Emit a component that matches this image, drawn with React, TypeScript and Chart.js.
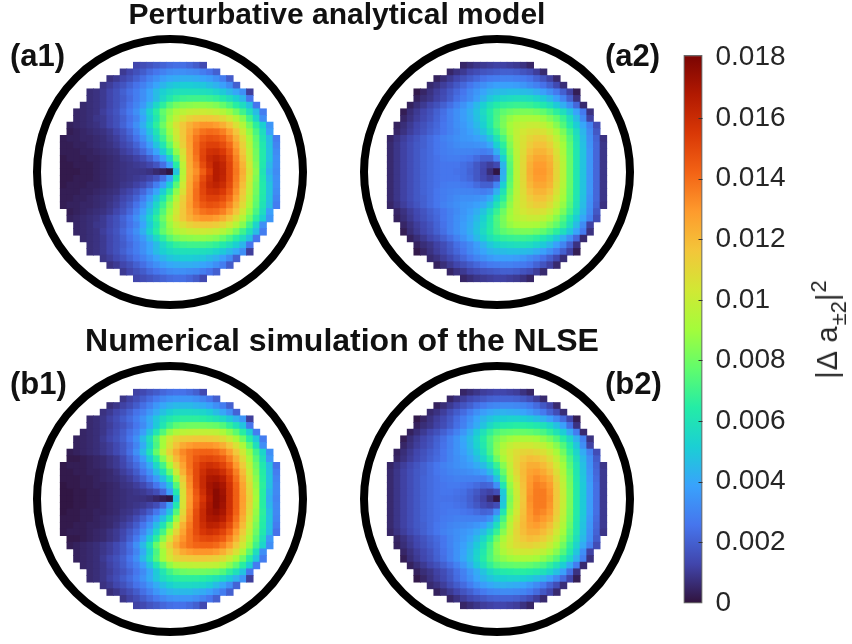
import React, { useEffect, useRef } from "react";
import { Chart, registerables } from "chart.js";

Chart.register(...registerables);

// Upper half of each panel (row 0 = top, row 16 = centre), values x 1e-4. Rows are centred on the grid; lower half mirrors.
const a1Rows: number[][] = [
  [13,15,17,19,21,23,24,24,22,19,14],
  [10,13,16,19,23,26,29,32,33,33,32,31,28,25,20],
  [8,10,13,16,20,24,29,33,37,40,41,42,42,41,39,37,33,28,19],
  [9,11,14,17,21,25,29,34,39,44,48,50,51,51,50,49,46,43,38,32,20],
  [7,8,10,13,16,20,24,28,33,39,46,52,56,58,59,59,59,58,57,54,50,45,40,33,11],
  [7,8,10,13,16,19,23,28,33,39,46,55,62,67,69,70,70,70,69,67,63,58,52,44,26],
  [6,7,8,10,13,16,20,25,30,36,45,55,66,75,81,84,85,86,86,85,83,78,72,65,57,47,26],
  [5,6,7,8,11,14,17,22,27,33,42,53,65,77,85,92,96,99,100,101,100,98,94,88,80,70,59,46,28],
  [5,6,7,9,10,13,16,20,25,30,39,50,62,75,88,98,106,111,114,115,115,113,109,103,94,84,70,54,33],
  [4,5,6,7,8,10,13,16,21,26,33,42,53,66,79,92,105,115,122,127,130,130,128,123,116,106,94,80,66,52,35],
  [3,4,5,6,7,8,10,13,17,22,29,38,48,60,74,88,102,115,125,133,138,140,139,135,127,116,102,87,72,57,38],
  [3,4,4,5,5,6,7,9,11,15,19,25,33,43,55,69,84,100,114,127,137,144,147,146,142,134,122,108,92,76,60,46,28],
  [3,3,4,4,5,6,7,8,10,13,16,21,28,37,48,61,77,94,112,126,139,148,152,152,148,140,127,112,95,78,62,47,30],
  [3,3,3,4,4,5,6,7,8,11,13,17,22,30,39,51,67,86,106,125,139,150,157,158,154,145,131,115,98,80,63,48,32],
  [2,3,3,3,4,4,5,6,7,9,10,12,15,20,28,38,52,75,102,124,137,151,160,163,159,149,134,118,100,81,63,48,33],
  [2,2,3,3,3,4,5,6,7,8,9,10,11,13,17,24,38,64,97,123,134,148,158,166,162,151,136,121,103,83,62,45,33],
  [2,2,2,3,3,4,5,6,7,8,9,9,9,8,6,4,1,48,95,122,131,143,154,166,163,151,137,123,105,85,60,42,32],
];
const a2Rows: number[][] = [
  [5,7,9,10,11,12,12,11,10,8,5],
  [5,8,10,13,15,17,18,19,20,20,19,17,15,11,6],
  [4,7,10,13,16,19,22,25,27,28,29,29,28,27,25,21,17,12,6],
  [6,8,11,14,18,22,26,30,33,36,38,38,38,37,35,32,29,25,20,14,7],
  [2,5,8,11,14,18,22,26,31,35,39,43,45,46,47,47,46,45,42,38,33,27,20,12,3],
  [4,7,9,12,15,19,24,28,32,37,43,49,53,56,57,58,58,57,54,50,45,38,30,20,8],
  [4,7,10,13,16,20,24,29,34,39,45,52,59,64,67,68,69,69,68,66,62,57,50,42,33,22,6],
  [3,7,10,13,16,20,24,29,33,37,42,48,56,64,71,76,79,81,82,82,80,77,72,66,58,49,39,27,8],
  [5,8,11,14,17,21,25,29,33,37,41,47,54,63,72,81,87,90,92,92,91,88,83,77,69,58,46,32,12],
  [4,7,10,13,16,19,22,26,29,33,36,40,45,52,62,73,82,90,95,98,100,100,97,92,84,74,63,51,40,29,15],
  [5,8,11,14,17,20,23,26,29,32,35,38,42,48,57,68,79,89,97,103,106,107,105,100,92,82,70,57,44,32,18],
  [5,8,11,14,17,20,23,26,29,31,33,35,36,38,41,48,60,72,86,98,105,110,113,112,107,98,87,74,60,46,33,21,8],
  [6,9,12,15,18,20,23,26,28,30,32,33,33,34,35,40,52,66,83,97,106,113,117,117,112,102,90,76,61,47,34,22,9],
  [6,9,12,15,18,21,23,26,28,29,30,30,30,29,28,30,42,60,80,96,107,117,121,121,117,106,92,77,62,48,35,22,9],
  [6,9,12,15,18,21,23,25,27,28,28,27,26,23,20,20,30,52,77,95,108,120,125,125,121,108,94,78,62,48,35,22,9],
  [6,9,12,15,18,21,23,25,26,26,26,24,22,18,14,11,14,44,75,95,109,122,128,128,123,110,95,78,62,48,35,22,9],
  [6,9,12,15,18,21,23,25,26,26,25,24,21,18,13,7,1,42,74,95,109,123,129,129,124,110,95,78,62,48,35,22,9],
];
const b1Rows: number[][] = [
  [12,14,17,19,22,24,25,25,23,20,14],
  [9,12,15,19,23,27,31,34,35,35,35,33,30,26,20],
  [7,9,12,15,19,24,29,35,40,43,45,45,45,43,41,38,33,28,20],
  [8,10,13,16,20,25,29,35,41,47,52,55,56,56,55,54,51,46,40,33,21],
  [6,7,9,12,15,19,23,28,34,41,49,57,62,65,66,66,66,65,63,60,56,50,43,35,11],
  [6,7,9,11,14,17,21,26,32,40,50,61,70,76,79,80,80,80,79,78,74,67,59,48,26],
  [5,6,7,9,12,15,19,24,29,37,48,61,74,86,93,96,97,98,98,98,97,92,85,76,65,51,28],
  [4,5,6,7,10,13,16,20,26,33,45,58,74,90,103,110,113,114,115,115,114,112,108,101,91,79,65,49,28],
  [4,5,6,7,9,11,14,18,23,30,41,55,72,90,106,117,124,128,130,130,130,128,123,115,105,92,76,58,33],
  [3,4,5,6,7,9,11,14,18,24,33,45,60,78,96,112,124,133,138,141,142,142,140,135,127,115,102,87,70,54,33],
  [2,2,3,4,5,6,8,10,14,20,27,37,50,66,84,103,119,130,138,145,149,150,148,144,135,123,108,92,75,58,36],
  [2,3,3,3,4,5,6,8,10,13,18,23,31,41,55,71,90,110,126,138,148,155,158,156,151,142,129,114,97,79,62,46,25],
  [2,2,3,3,4,4,5,6,8,11,14,19,26,34,46,60,78,101,122,136,149,158,164,163,158,149,135,119,101,82,64,47,28],
  [2,2,2,3,3,4,5,6,7,9,11,15,20,27,36,47,63,87,114,133,149,160,168,169,165,154,139,123,105,85,65,48,30],
  [1,2,2,3,3,4,4,5,6,8,9,11,14,19,26,35,48,74,109,131,148,160,170,173,169,157,142,126,108,87,66,47,31],
  [1,1,2,2,3,3,4,5,6,7,8,9,10,12,15,22,37,62,106,129,145,158,169,176,171,158,143,127,110,89,65,44,31],
  [1,1,2,2,3,3,4,5,6,7,8,8,8,7,5,3,1,50,105,128,143,155,167,176,172,158,143,128,112,90,65,42,30],
];
const b2Rows: number[][] = [
  [5,7,9,11,12,13,13,12,11,8,5],
  [5,8,11,14,16,18,20,21,21,21,20,18,15,11,6],
  [4,7,10,13,17,20,24,27,30,31,32,32,31,30,27,23,18,13,6],
  [6,8,11,15,19,23,28,33,37,40,42,43,42,41,39,36,32,27,21,15,7],
  [2,5,8,11,14,18,23,28,33,39,44,48,51,52,53,53,52,50,47,43,38,31,23,13,3],
  [4,7,9,12,15,19,24,29,35,41,48,55,60,63,64,65,65,64,62,59,54,47,38,24,8],
  [4,7,10,13,16,20,24,29,35,42,50,59,67,73,76,77,78,78,77,75,72,67,60,51,41,28,6],
  [3,7,10,13,16,20,24,29,34,40,46,54,64,73,81,86,89,91,92,92,90,86,81,74,65,55,43,29,8],
  [5,8,11,14,17,21,25,29,34,39,45,53,62,72,84,92,98,101,102,102,100,97,91,84,74,63,49,33,12],
  [4,7,10,13,16,19,22,26,30,34,38,43,50,59,71,85,95,102,107,110,111,109,106,100,91,80,67,54,41,29,15],
  [5,8,11,14,17,20,23,26,30,33,36,40,46,54,65,79,91,101,109,115,118,117,113,107,98,86,72,58,45,33,19],
  [5,8,11,14,17,20,23,26,29,31,33,35,37,41,46,55,68,84,98,110,118,123,123,119,113,103,90,75,61,47,34,21,9],
  [6,9,12,15,18,20,23,26,28,30,31,32,33,35,38,45,58,78,96,109,119,126,128,124,118,107,93,78,62,48,35,22,10],
  [6,9,12,15,18,21,23,25,27,28,29,29,29,29,29,33,47,71,92,106,118,128,132,129,124,111,96,80,63,49,36,23,10],
  [6,9,12,15,18,21,23,25,26,27,27,26,25,23,21,22,33,61,87,103,117,129,135,133,128,114,98,81,64,50,37,24,10],
  [6,9,12,15,18,21,23,25,26,26,25,24,21,18,14,12,15,50,84,101,116,130,136,136,130,115,99,82,64,50,37,24,10],
  [6,9,12,15,18,21,23,25,25,25,24,23,20,16,12,7,1,48,82,100,115,131,136,136,131,115,100,82,64,50,37,24,10],
];

const colorbarTicks = [0, 0.002, 0.004, 0.006, 0.008, 0.01, 0.012, 0.014, 0.016, 0.018];
const colorbarLabels = ["0", "0.002", "0.004", "0.006", "0.008", "0.01", "0.012", "0.014", "0.016", "0.018"];
const colorbarRange = [-0.00002, 0.01808];
const titleTop = "Perturbative analytical model";
const titleBottom = "Numerical simulation of the NLSE";
const turboStops = ["#30123b","#4145ab","#4675ed","#39a2fc","#1bcfd4","#24eca6","#61fc6c","#a4fc3b","#d1e834","#f3c63a","#fe9b2d","#f36315","#d93806","#b11901","#7a0403"];

const VALUE_MAX = 180;
const CANVAS = 300;
const CELL = 6.65;
const RANGE = CANVAS / CELL / 2;

function hexToRgb(h: string) {
  return [1, 3, 5].map((i) => parseInt(h.slice(i, i + 2), 16));
}
function turbo(t: number) {
  const c = Math.max(0, Math.min(1, t)) * (turboStops.length - 1);
  const i = Math.min(Math.floor(c), turboStops.length - 2);
  const f = c - i;
  const a = hexToRgb(turboStops[i]);
  const b = hexToRgb(turboStops[i + 1]);
  return `rgb(${a.map((v, k) => Math.round(v + (b[k] - v) * f)).join(",")})`;
}

function Panel({ rows, cx, cy }: { rows: number[][]; cx: number; cy: number }) {
  const ref = useRef<HTMLCanvasElement>(null);
  useEffect(() => {
    const all = [...rows, ...rows.slice(0, -1).reverse()];
    const pts: { x: number; y: number; v: number }[] = [];
    all.forEach((r, i) => {
      const start = (33 - r.length) / 2;
      r.forEach((v, j) => pts.push({ x: start + j - 16, y: 16 - i, v }));
    });
    const chart = new Chart(ref.current!, {
      type: "scatter",
      data: {
        datasets: [
          {
            data: [{ x: 0, y: 0 }],
            pointStyle: "circle",
            pointRadius: 133,
            pointBorderWidth: 8,
            pointBorderColor: "#000000",
            pointBackgroundColor: "rgba(0,0,0,0)",
            clip: false,
          },
          {
            data: pts,
            pointStyle: "rect",
            pointRadius: (CELL + 0.8) / Math.SQRT2,
            pointBorderWidth: 0,
            pointBackgroundColor: pts.map((p) => turbo(p.v / VALUE_MAX)),
            clip: false,
          },
        ],
      } as any,
      options: {
        animation: false,
        responsive: false,
        devicePixelRatio: 1,
        layout: { padding: 0, autoPadding: false },
        plugins: { legend: { display: false }, tooltip: { enabled: false } },
        scales: {
          x: { type: "linear", display: false, min: -RANGE, max: RANGE },
          y: { type: "linear", display: false, min: -RANGE, max: RANGE },
        },
      },
    });
    return () => chart.destroy();
  }, []);
  return (
    <canvas
      ref={ref}
      width={CANVAS}
      height={CANVAS}
      style={{ position: "absolute", left: cx - CANVAS / 2, top: cy - CANVAS / 2, width: CANVAS, height: CANVAS }}
    />
  );
}

function Colorbar() {
  const ref = useRef<HTMLCanvasElement>(null);
  useEffect(() => {
    const innerTicks = {
      id: "innerTicks",
      afterDatasetsDraw(c: any) {
        const { ctx, chartArea, scales } = c;
        ctx.save();
        ctx.strokeStyle = "#333333";
        ctx.lineWidth = 1;
        colorbarTicks.slice(1, -1).forEach((v) => {
          const y = Math.round(scales.y.getPixelForValue(v)) + 0.5;
          ctx.beginPath();
          ctx.moveTo(chartArea.right - 4, y);
          ctx.lineTo(chartArea.right, y);
          ctx.stroke();
        });
        ctx.restore();
      },
    };
    const chart = new Chart(ref.current!, {
      type: "bar",
      data: {
        labels: [""],
        datasets: [
          {
            data: [colorbarRange],
            barPercentage: 1,
            categoryPercentage: 1,
            borderWidth: 1.5,
            borderColor: "#6a6a6a",
            borderSkipped: false,
            backgroundColor: (ctx: any) => {
              const area = ctx.chart.chartArea;
              if (!area) return "#000";
              const g = ctx.chart.ctx.createLinearGradient(0, area.bottom, 0, area.top);
              turboStops.forEach((c, i) => g.addColorStop(i / (turboStops.length - 1), c));
              return g;
            },
          },
        ],
      } as any,
      options: {
        animation: false,
        responsive: false,
        devicePixelRatio: 1,
        layout: { autoPadding: false, padding: { left: 3.5, right: 0, top: 25, bottom: 26.5 } },
        plugins: { legend: { display: false }, tooltip: { enabled: false } },
        scales: {
          x: { display: false },
          y: {
            position: "right",
            min: colorbarRange[0],
            max: colorbarRange[1],
            afterBuildTicks: (s: any) => {
              s.ticks = colorbarTicks.map((value) => ({ value }));
            },
            afterFit: (s: any) => {
              s.width = 149.5;
              s.paddingTop = 0;
              s.paddingBottom = 0;
            },
            grid: { display: false, drawTicks: false },
            border: { display: false },
            ticks: {
              color: "#262626",
              padding: 13,
              autoSkip: false,
              font: { family: "'Liberation Sans'", size: 28 },
              callback: (v: any) => colorbarLabels[colorbarTicks.findIndex((t) => Math.abs(t - v) < 1e-6)],
            },
          },
        },
      } as any,
      plugins: [innerTicks],
    });
    return () => chart.destroy();
  }, []);
  return (
    <canvas
      ref={ref}
      width={172}
      height={600}
      style={{ position: "absolute", left: 680, top: 30, width: 172, height: 600 }}
    />
  );
}

const boldText: React.CSSProperties = {
  position: "absolute",
  fontFamily: "'Liberation Sans', Arial, sans-serif",
  fontWeight: 700,
  fontSize: 31,
  lineHeight: "34px",
  color: "#111",
  whiteSpace: "nowrap",
};

export default function App() {
  return (
    <div style={{ position: "absolute", left: 0, top: 0, width: 852, height: 644, overflow: "hidden", background: "#fff" }}>
      <Panel rows={a1Rows} cx={170.4} cy={172.3} />
      <Panel rows={a2Rows} cx={497.4} cy={172.3} />
      <Panel rows={b1Rows} cx={170.4} cy={498.8} />
      <Panel rows={b2Rows} cx={497.4} cy={498.8} />
      <Colorbar />
      <div style={{ ...boldText, fontSize: 30, left: 337, top: -3, transform: "translateX(-50%)" }}>{titleTop}</div>
      <div style={{ ...boldText, fontSize: 32, left: 342, top: 323, transform: "translateX(-50%)" }}>{titleBottom}</div>
      <div style={{ ...boldText, left: 10, top: 39 }}>(a1)</div>
      <div style={{ ...boldText, left: 605, top: 39 }}>(a2)</div>
      <div style={{ ...boldText, left: 10, top: 367 }}>(b1)</div>
      <div style={{ ...boldText, left: 605, top: 367 }}>(b2)</div>
      <div
        style={{
          position: "absolute",
          left: 827,
          top: 329,
          transform: "translate(-50%,-50%) rotate(-90deg)",
          fontFamily: "'Liberation Sans', Arial, sans-serif",
          fontSize: 29,
          lineHeight: "30px",
          letterSpacing: 1,
          color: "#262626",
          whiteSpace: "nowrap",
        }}
      >
        |Δ a<sub style={{ fontSize: 22, lineHeight: 0, letterSpacing: 0, verticalAlign: -9 }}>±2</sub>|<sup style={{ fontSize: 22, lineHeight: 0 }}>2</sup>
      </div>
    </div>
  );
}
